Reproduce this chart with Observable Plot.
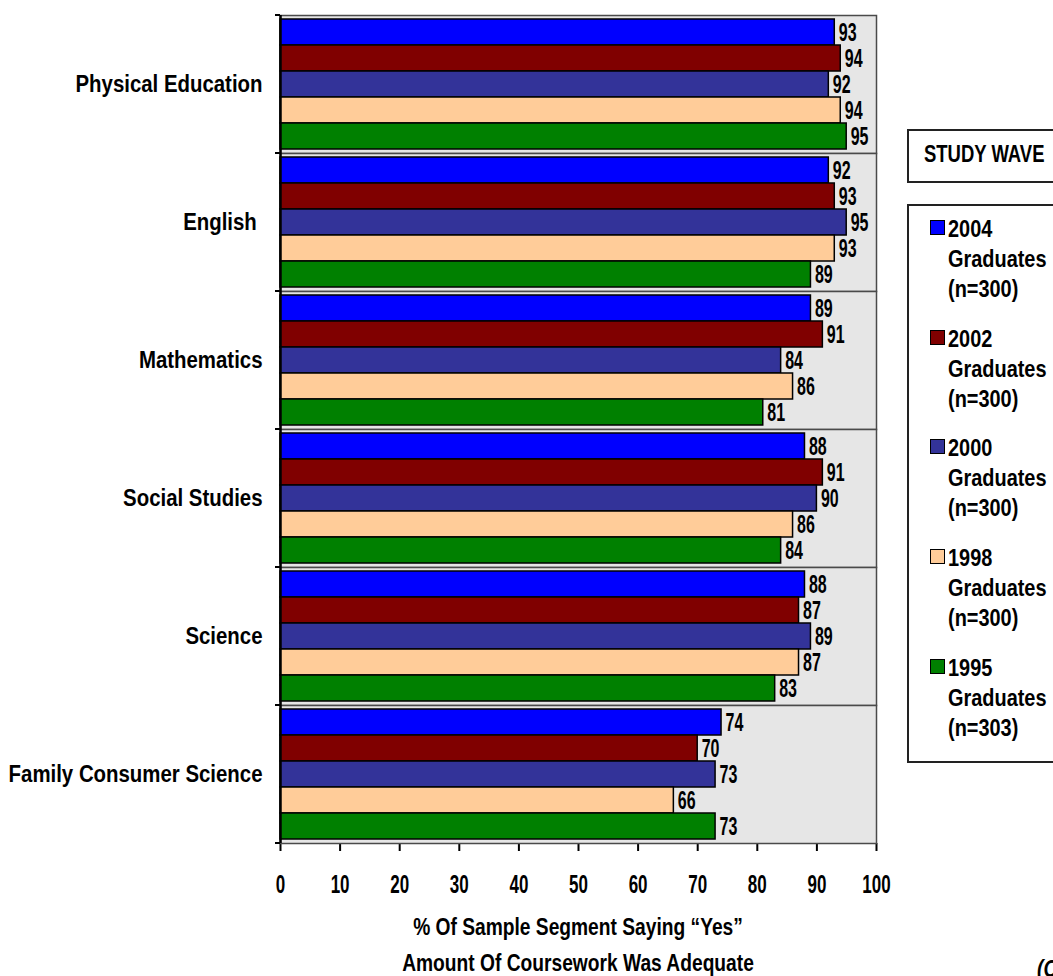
<!DOCTYPE html>
<html>
<head>
<meta charset="utf-8">
<script src="https://cdn.jsdelivr.net/npm/d3@7"></script>
<script src="https://cdn.jsdelivr.net/npm/@observablehq/plot@0.6"></script>
<style>
  html, body { margin: 0; padding: 0; background: #fff; overflow: hidden; }
  #wrap { position: relative; width: 1053px; height: 976px; overflow: hidden;
          font-family: "Liberation Sans Narrow", "Arial Narrow", "Liberation Sans", Arial, sans-serif;
          font-weight: bold; color: #000; }
  .abs { position: absolute; white-space: nowrap; }
  .box { position: absolute; border: 2px solid #222; background: #fff; box-sizing: border-box; }
</style>
</head>
<body>
<div id="wrap"></div>
<script>
const FONT = '"Liberation Sans Narrow", "Arial Narrow", "Liberation Sans", Arial, sans-serif';

// Subjects (top to bottom) and study waves
const subjects = ["Physical Education", "English\u00a0", "Mathematics", "Social Studies", "Science", "Family Consumer Science"];
const waveYears = ["2004", "2002", "2000", "1998", "1995"];
const waveSizes = ["(n=300)", "(n=300)", "(n=300)", "(n=300)", "(n=303)"];
const waveColors = ["#0000ff", "#800000", "#333399", "#ffcc99", "#008000"];

// % saying "Yes", one array per subject, in wave order 2004, 2002, 2000, 1998, 1995
const physicalEducation = [93, 94, 92, 94, 95];
const english = [92, 93, 95, 93, 89];
const mathematics = [89, 91, 84, 86, 81];
const socialStudies = [88, 91, 90, 86, 84];
const science = [88, 87, 89, 87, 83];
const familyConsumerScience = [74, 70, 73, 66, 73];

const xTicks = [0, 10, 20, 30, 40, 50, 60, 70, 80, 90, 100];
const xTitle = ["% Of Sample Segment Saying \u201cYes\u201d", "Amount Of Coursework Was Adequate"];
const legendTitle = "STUDY WAVE";

const seriesBySubject = [physicalEducation, english, mathematics, socialStudies, science, familyConsumerScience];
const rows = [];
subjects.forEach((s, i) => waveYears.forEach((w, j) => rows.push({subject: s, wave: w, value: seriesBySubject[i][j]})));

const chart = Plot.plot({
  width: 1053,
  height: 976,
  marginLeft: 280,
  marginRight: 177,
  marginTop: 12,
  marginBottom: 131,
  style: {fontFamily: FONT, fontWeight: "bold", fontSize: "24px", color: "#000", background: "transparent", overflow: "visible"},
  x: {domain: [0, 100], ticks: xTicks, tickSize: 8, tickPadding: 24, label: null, line: true},
  y: {domain: waveYears, axis: null, paddingInner: 0, paddingOuter: 0.13},
  fy: {domain: subjects, padding: 0, label: null, tickSize: 0, tickPadding: 18},
  color: {domain: waveYears, range: waveColors},
  marks: [
    Plot.frame({fill: "#e6e6e6", stroke: "#4a4a4a", strokeWidth: 1.5}),
    Plot.barX(rows, {x: "value", y: "wave", fy: "subject", fill: "wave", stroke: "#000", strokeWidth: 1.5}),
    Plot.text(rows, {x: "value", y: "wave", fy: "subject", text: d => String(d.value), textAnchor: "start", dx: 4, fill: "#000", fontSize: 25}),
    Plot.ruleX([0], {stroke: "#000", strokeWidth: 2.5})
  ]
});

const wrap = document.getElementById("wrap");
wrap.appendChild(chart);
const svg = d3.select(chart);

// bottom axis line and ticks in solid black
svg.selectAll("[aria-label='x-axis tick'] path, [aria-label='x-axis line'] line, [aria-label='x-axis tick'] line")
  .attr("stroke", "#000").attr("stroke-width", 2);
svg.selectAll("[aria-label='x-axis tick label'] text").attr("font-size", 25);

// condensed lettering: squeeze each label horizontally about its own anchor
function squeeze(selection, s) {
  selection.each(function () {
    const x = +this.getAttribute("x") || 0;
    const t = this.getAttribute("transform") || "";
    this.setAttribute("transform", `${t} translate(${x},0) scale(${s},1) translate(${-x},0)`);
  });
}
squeeze(svg.selectAll("[aria-label='text'] text"), 0.64);
squeeze(svg.selectAll("[aria-label='x-axis tick label'] text"), 0.68);
squeeze(svg.selectAll("[aria-label='fy-axis tick label'] text"), 0.85);

// small outside ticks on the left at each facet boundary
const fy = chart.scale("fy");
const bw = fy.bandwidth;
const bounds = subjects.map(s => fy.apply(s)).concat([fy.apply(subjects[subjects.length - 1]) + bw]);
svg.append("g").selectAll("line").data(bounds).join("line")
  .attr("x1", 275).attr("x2", 280).attr("y1", d => d).attr("y2", d => d)
  .attr("stroke", "#000").attr("stroke-width", 2);

// axis title (two lines) below the tick labels
xTitle.forEach((t, i) => {
  const d = document.createElement("div");
  d.className = "abs";
  d.textContent = t;
  d.style.cssText = `left:280px;width:596px;text-align:center;top:${913 + i * 36}px;font-size:24px;line-height:28px;transform:scaleX(0.8);transform-origin:50% 50%;`;
  wrap.appendChild(d);
});

// legend
const b1 = document.createElement("div");
b1.className = "box";
b1.style.cssText = "left:907px;top:129px;width:200px;height:54px;";
const t1 = document.createElement("div");
t1.className = "abs";
t1.textContent = legendTitle;
t1.style.cssText = "left:15px;top:9px;font-size:24px;line-height:28px;transform:scaleX(0.77);transform-origin:0 50%;";
b1.appendChild(t1);
wrap.appendChild(b1);

const b2 = document.createElement("div");
b2.className = "box";
b2.style.cssText = "left:907px;top:204px;width:200px;height:559px;";
wrap.appendChild(b2);
waveYears.forEach((w, i) => {
  const top = 8 + i * 109.7;
  const sw = document.createElement("div");
  sw.className = "abs";
  sw.style.cssText = `left:21px;top:${top + 6}px;width:13px;height:13px;border:1px solid #000;background:${waveColors[i]};`;
  b2.appendChild(sw);
  [w, "Graduates", waveSizes[i]].forEach((line, k) => {
    const d = document.createElement("div");
    d.className = "abs";
    d.textContent = line;
    d.style.cssText = `left:39px;top:${top + k * 30}px;font-size:24px;line-height:30px;transform:scaleX(0.83);transform-origin:0 50%;`;
    b2.appendChild(d);
  });
});

// continuation marker at the page corner
const cont = document.createElement("div");
cont.className = "abs";
cont.textContent = "(Continued)";
cont.style.cssText = "left:1037px;top:955px;font-size:24px;line-height:28px;font-style:italic;transform:scaleX(0.8);transform-origin:0 50%;";
wrap.appendChild(cont);
</script>
</body>
</html>
